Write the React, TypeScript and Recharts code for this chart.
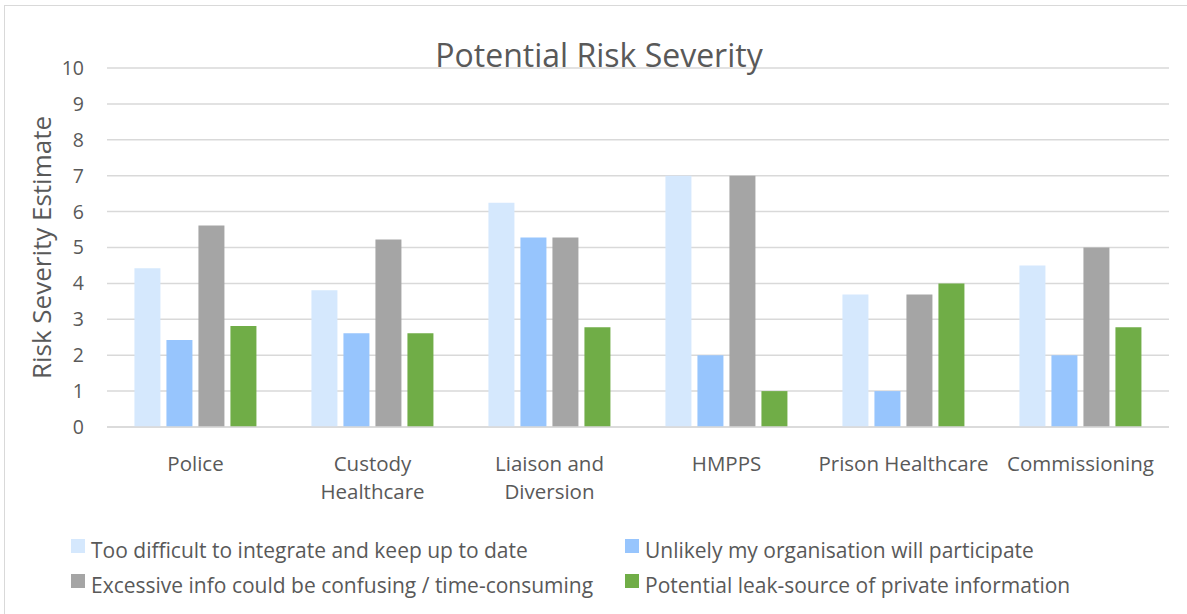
import React from 'react'
import { BarChart, Bar, XAxis, YAxis, CartesianGrid } from 'recharts'

const categories = ['Police', 'Custody Healthcare', 'Liaison and Diversion', 'HMPPS', 'Prison Healthcare', 'Commissioning']
const tickLines = [['Police'], ['Custody', 'Healthcare'], ['Liaison and', 'Diversion'], ['HMPPS'], ['Prison Healthcare'], ['Commissioning']]
const tooDifficult = [4.42, 3.81, 6.25, 7, 3.69, 4.5]
const unlikely = [2.42, 2.61, 5.28, 2, 1, 2]
const excessive = [5.61, 5.22, 5.28, 7, 3.69, 5]
const leak = [2.81, 2.61, 2.78, 1, 4, 2.78]
const yTicks = [0, 1, 2, 3, 4, 5, 6, 7, 8, 9, 10]

const series = [
  { key: 'a', name: 'Too difficult to integrate and keep up to date', color: '#D5E8FD' },
  { key: 'b', name: 'Unlikely my organisation will participate', color: '#97C5FD' },
  { key: 'c', name: 'Excessive info could be confusing / time-consuming', color: '#A5A5A5' },
  { key: 'd', name: 'Potential leak-source of private information', color: '#70AD47' },
]

const data = categories.map((c, i) => ({
  name: c,
  a: tooDifficult[i],
  b: unlikely[i],
  c: excessive[i],
  d: leak[i],
}))

const font = '"Open Sans", sans-serif'

function XTick(props: any) {
  const { x, y, index } = props
  const lines = tickLines[index] || [props.payload.value]
  return (
    <g>
      {lines.map((l: string, i: number) => (
        <text key={i} x={x} y={y + 36 + i * 28} textAnchor="middle" fill="#595959" fontSize={20.5} fontFamily={font}>
          {l}
        </text>
      ))}
    </g>
  )
}

function LegendBox() {
  return (
    <div style={{ position: 'absolute', left: 71, top: 535, width: 1100, fontFamily: font, fontSize: 21, color: '#595959' }}>
      {series.map((s, i) => (
        <div
          key={s.key}
          style={{ position: 'absolute', left: i % 2 === 0 ? 0 : 554, top: i < 2 ? 0 : 35, display: 'flex', alignItems: 'center', height: 30, whiteSpace: 'nowrap' }}
        >
          <span style={{ width: 14, height: 14, background: s.color, marginRight: 6, marginTop: -8 }} />
          <span>{s.name}</span>
        </div>
      ))}
    </div>
  )
}

export default function App() {
  return (
    <div style={{ position: 'absolute', left: 0, top: 0, width: 1187, height: 614, background: '#fff', overflow: 'hidden' }}>
      <div style={{ position: 'absolute', left: 4, top: 5, width: 1190, height: 620, border: '1.5px solid #D9D9D9' }} />
      <div style={{ position: 'absolute', left: 0, top: 0 }}>
        <BarChart width={1187} height={614} data={data} margin={{ top: 68, right: 18, bottom: 0, left: 0 }} barGap={6} barCategoryGap="15.5%">
          <CartesianGrid vertical={false} stroke="#D9D9D9" strokeWidth={1.5} />
          <XAxis dataKey="name" tick={<XTick />} tickLine={false} axisLine={{ stroke: '#D9D9D9', strokeWidth: 1.5 }} interval={0} height={187} />
          <YAxis
            width={107}
            domain={[0, 10]}
            ticks={yTicks}
            interval={0}
            tickLine={false}
            axisLine={false}
            tickSize={0}
            tickMargin={23}
            tick={{ fill: '#595959', fontSize: 19.5, fontFamily: font }}
            label={{ value: 'Risk Severity Estimate', angle: -90, position: 'insideLeft', offset: 42, style: { textAnchor: 'middle', fill: '#595959', fontSize: 26, fontFamily: font } }}
          />
          {series.map(s => (
            <Bar key={s.key} dataKey={s.key} name={s.name} fill={s.color} isAnimationActive={false} />
          ))}
        </BarChart>
      </div>
      <div style={{ position: 'absolute', left: 0, top: 33, width: 1198, textAlign: 'center', fontFamily: font, fontSize: 32, color: '#595959' }}>
        Potential Risk Severity
      </div>
      <LegendBox />
    </div>
  )
}
